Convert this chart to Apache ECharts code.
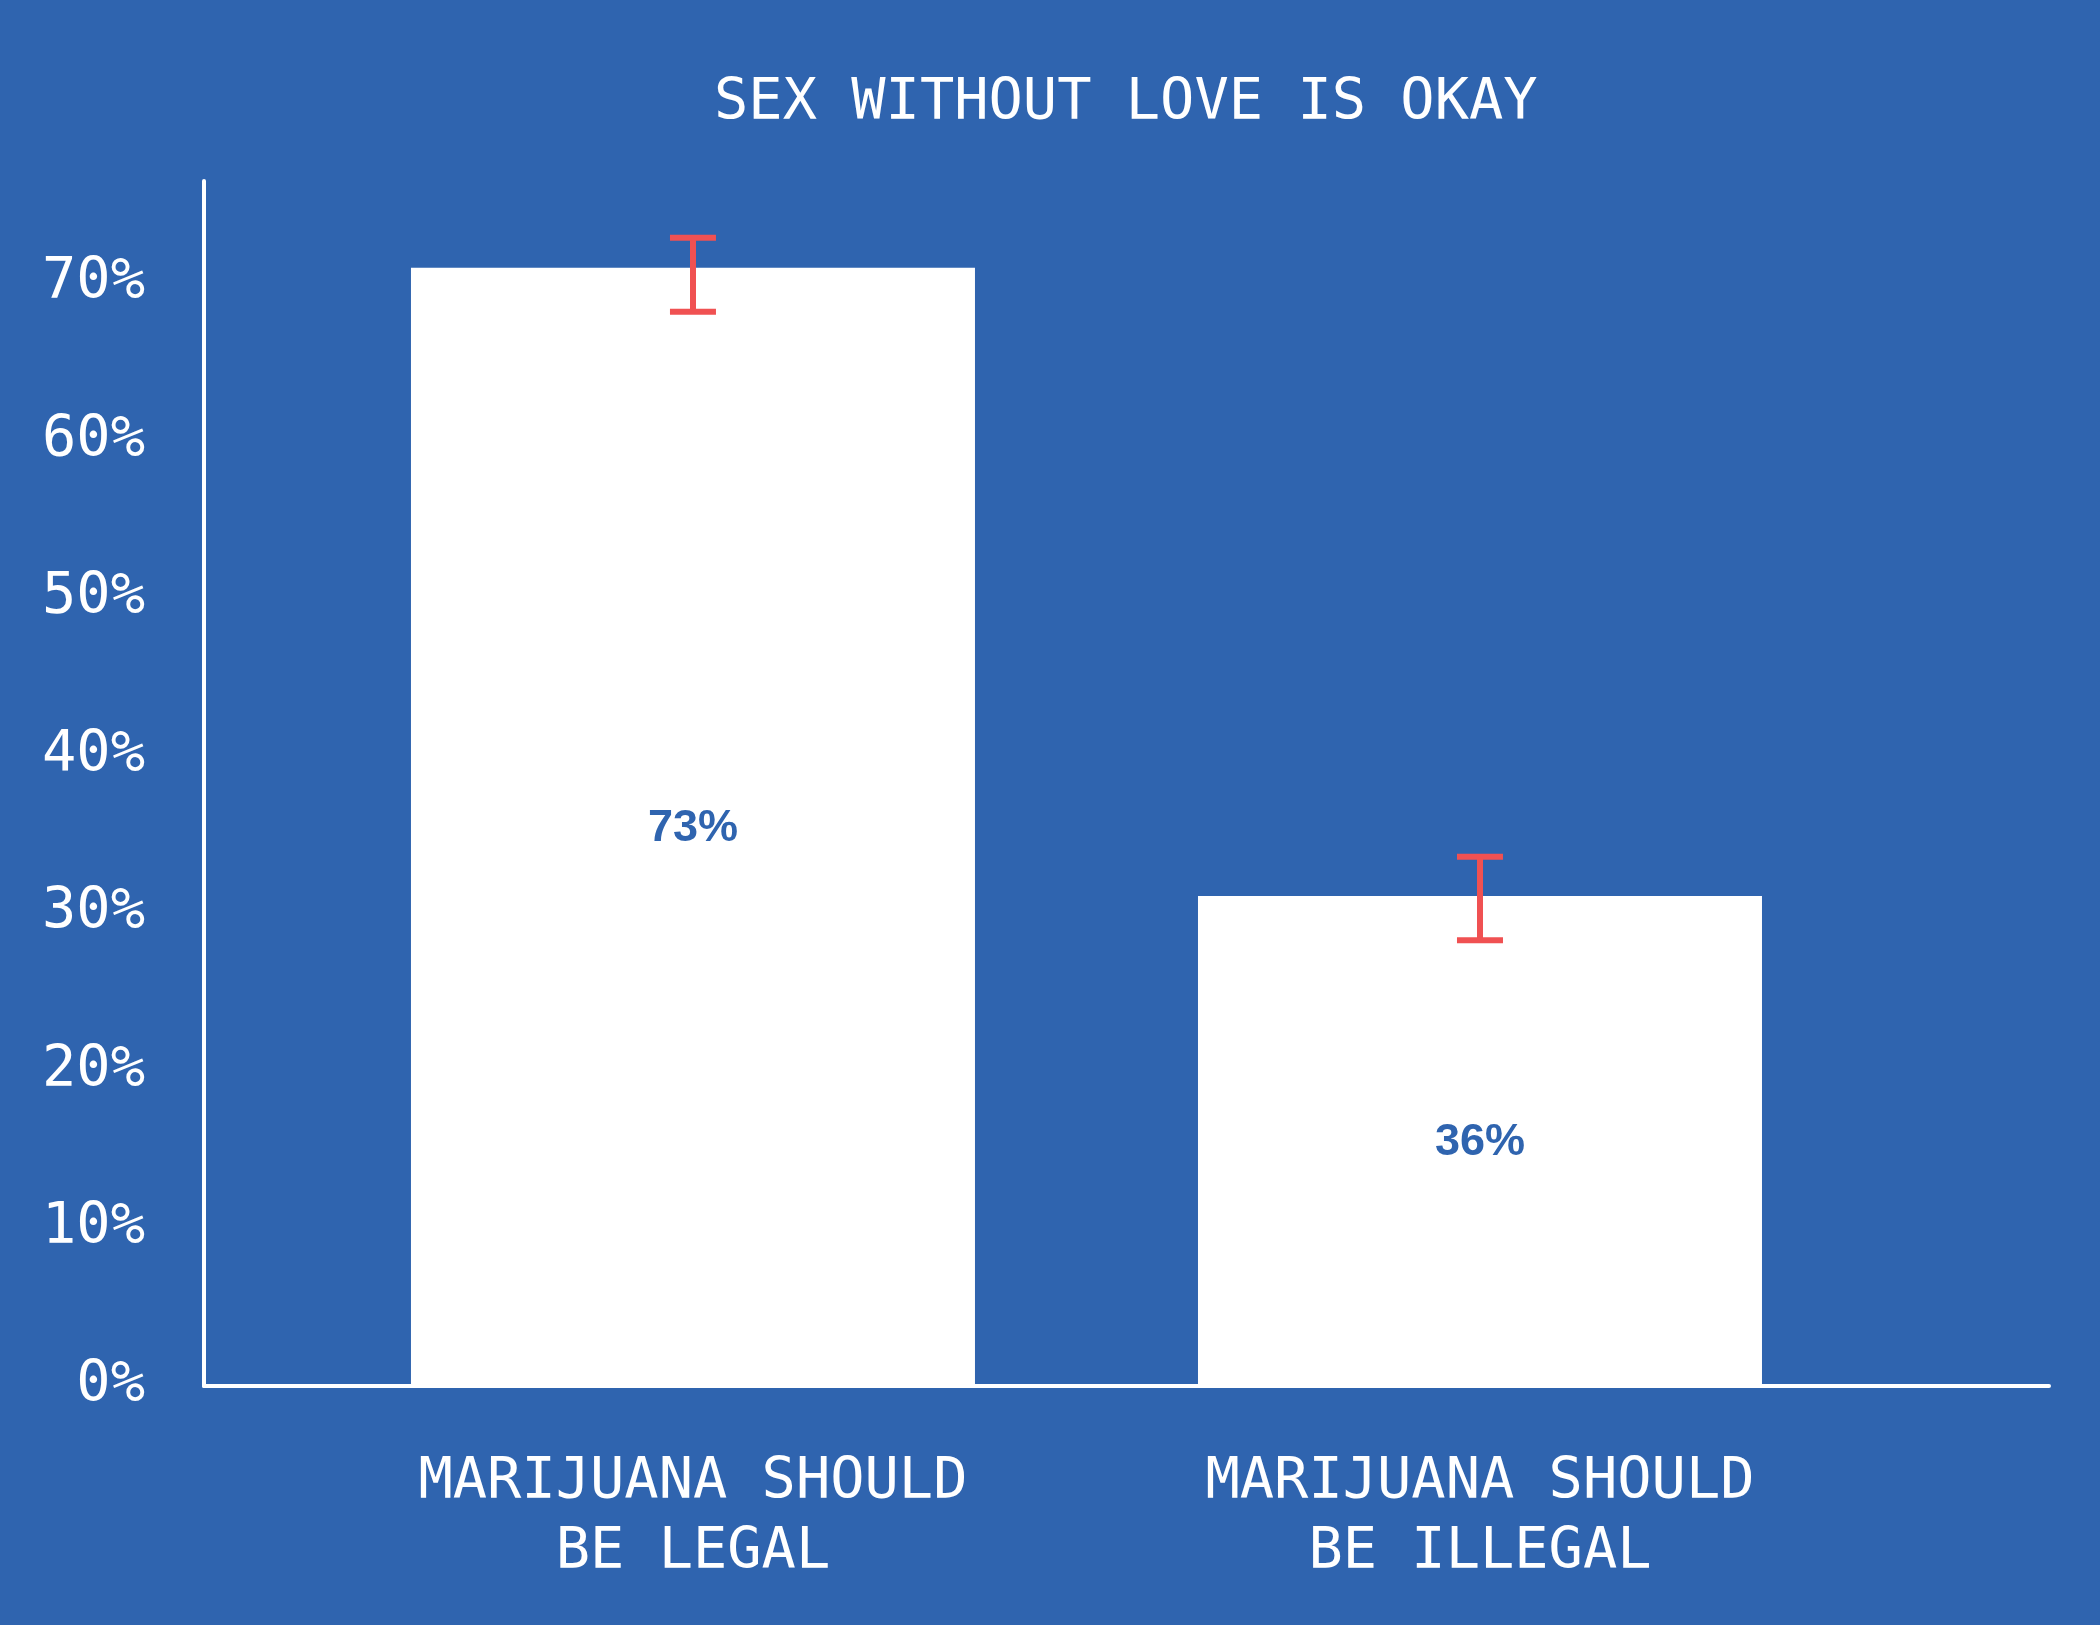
<!DOCTYPE html>
<html>
<head>
<meta charset="utf-8">
<script src="https://cdn.jsdelivr.net/npm/echarts@6/dist/echarts.min.js"></script>
<style>
  html, body { margin: 0; padding: 0; background: #2f64af; }
  #chart { width: 2100px; height: 1625px; }
</style>
</head>
<body>
<div id="chart"></div>
<script>
var categories = ['MARIJUANA SHOULD\nBE LEGAL', 'MARIJUANA SHOULD\nBE ILLEGAL'];
var barValues = [71.0, 31.1];
var barLabels = ['73%', '36%'];
var errLow = [68.2, 28.3];
var errHigh = [72.9, 33.6];
var yTicks = [0, 10, 20, 30, 40, 50, 60, 70];

var bg = '#2f64af';
var mono = '"DejaVu Sans Mono", "Liberation Mono", monospace';

var chart = echarts.init(document.getElementById('chart'));

var barData = barValues.map(function (v, i) { return [i + 1, v]; });
var errData = errLow.map(function (v, i) { return [i + 1, v, errHigh[i]]; });

var option = {
    backgroundColor: bg,
    animation: false,
    title: {
        text: 'SEX WITHOUT LOVE IS OKAY',
        left: 709,
        top: 71,
        textStyle: { color: '#ffffff', fontFamily: mono, fontSize: 57, fontWeight: 'normal' }
    },
    grid: { left: 204, right: 51, top: 181, bottom: 239 },
    xAxis: {
        type: 'value',
        min: 0.3787,
        max: 2.723,
        splitLine: { show: false },
        axisTick: { show: false },
        axisLine: { show: true, onZero: false, lineStyle: { color: '#ffffff', width: 4 } },
        axisLabel: {
            customValues: [1, 2],
            formatter: function (v) { return categories[Math.round(v) - 1] || ''; },
            color: '#ffffff',
            fontFamily: mono,
            fontSize: 57,
            lineHeight: 70,
            margin: 62
        }
    },
    yAxis: {
        type: 'value',
        min: 0,
        max: 76.5,
        interval: 10,
        splitLine: { show: false },
        axisTick: { show: false },
        axisLine: { show: true, lineStyle: { color: '#ffffff', width: 4 } },
        axisLabel: {
            customValues: yTicks,
            formatter: '{value}%',
            color: '#ffffff',
            fontFamily: mono,
            fontSize: 57,
            margin: 59
        }
    },
    series: [
        {
            type: 'bar',
            data: barData,
            barWidth: 564,
            itemStyle: { color: '#ffffff' },
            label: {
                show: true,
                position: 'inside',
                offset: [0, 2],
                formatter: function (p) { return barLabels[p.dataIndex]; },
                color: bg,
                fontFamily: '"Liberation Sans", Arial, sans-serif',
                fontWeight: 'bold',
                fontSize: 45
            }
        },
        {
            type: 'custom',
            data: errData,
            z: 5,
            renderItem: function (params, api) {
                var x = api.value(0);
                var lo = api.coord([x, api.value(1)]);
                var hi = api.coord([x, api.value(2)]);
                var hw = 23;
                var st = { stroke: '#f05152', lineWidth: 6 };
                return {
                    type: 'group',
                    children: [
                        { type: 'line', shape: { x1: lo[0], y1: lo[1], x2: hi[0], y2: hi[1] }, style: st },
                        { type: 'line', shape: { x1: hi[0] - hw, y1: hi[1], x2: hi[0] + hw, y2: hi[1] }, style: st },
                        { type: 'line', shape: { x1: lo[0] - hw, y1: lo[1], x2: lo[0] + hw, y2: lo[1] }, style: st }
                    ]
                };
            }
        }
    ]
};

chart.setOption(option);
</script>
</body>
</html>
